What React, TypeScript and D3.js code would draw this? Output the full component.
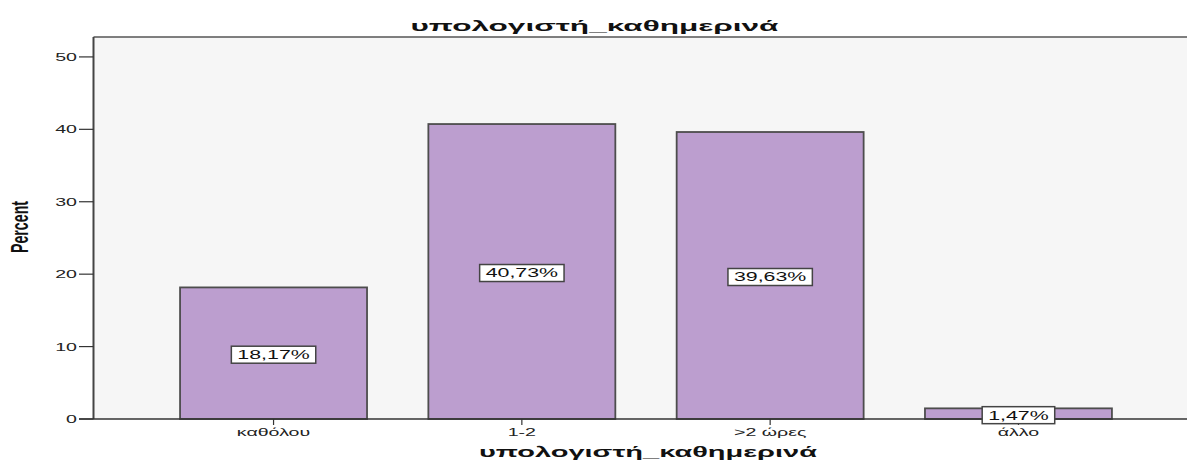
import React, { useEffect, useRef } from "react";
import * as d3 from "d3";

// Share of respondents by daily computer use
const categories = ["καθόλου", "1-2", ">2 ώρες", "άλλο"];
const percents = [18.17, 40.73, 39.63, 1.47];
const yTicks = [0, 10, 20, 30, 40, 50];
const chartTitle = "υπολογιστή_καθημερινά";
const xTitle = "υπολογιστή_καθημερινά";
const yTitle = "Percent";

const W = 1187;
const H = 461;
const SX = 1.78; // wide glyph look of the exported chart
const FONT = "'Liberation Sans', Arial, sans-serif";

const fmt = (v: number) => v.toFixed(2).replace(".", ",") + "%";

export default function App() {
  const ref = useRef<SVGSVGElement>(null);

  useEffect(() => {
    const svg = d3.select(ref.current);
    svg.selectAll("*").remove();

    const left = 93.5;
    const top = 37;
    const bottom = 419;

    const y = d3.scaleLinear().domain([0, 52.75]).range([bottom, top]);
    const x = d3
      .scaleBand<string>()
      .domain(categories)
      .range([149.4, 1142.6])
      .paddingInner(0.247)
      .paddingOuter(0.1235);

    const data = categories.map((c, i) => ({ c, v: percents[i] }));

    // plot background
    svg
      .append("rect")
      .attr("x", left)
      .attr("y", top)
      .attr("width", W - left)
      .attr("height", bottom - top)
      .attr("fill", "#f6f6f6");

    // top frame line
    svg
      .append("line")
      .attr("x1", left)
      .attr("x2", W)
      .attr("y1", top)
      .attr("y2", top)
      .attr("stroke", "#555")
      .attr("stroke-width", 1.6);

    // bars
    svg
      .append("g")
      .selectAll("rect")
      .data(data)
      .join("rect")
      .attr("x", (d) => x(d.c)!)
      .attr("y", (d) => y(d.v))
      .attr("width", x.bandwidth())
      .attr("height", (d) => y(0) - y(d.v))
      .attr("fill", "#bc9ecf")
      .attr("stroke", "#4d4d4d")
      .attr("stroke-width", 1.8);

    // y axis line + ticks
    svg
      .append("line")
      .attr("x1", left)
      .attr("x2", left)
      .attr("y1", top)
      .attr("y2", bottom)
      .attr("stroke", "#444")
      .attr("stroke-width", 2);

    const yt = svg.append("g");
    yt.selectAll("line")
      .data(yTicks)
      .join("line")
      .attr("x1", 79)
      .attr("x2", left)
      .attr("y1", (d) => y(d))
      .attr("y2", (d) => y(d))
      .attr("stroke", "#333")
      .attr("stroke-width", 1.2);
    yt.selectAll("text")
      .data(yTicks)
      .join("text")
      .attr("transform", (d) => `translate(77,${y(d)}) scale(${SX},1)`)
      .attr("text-anchor", "end")
      .attr("dy", "0.36em")
      .attr("font-family", FONT)
      .attr("font-size", 11)
      .attr("fill", "#222")
      .text((d) => String(d));

    // x axis baseline
    svg
      .append("line")
      .attr("x1", 79)
      .attr("x2", W)
      .attr("y1", bottom)
      .attr("y2", bottom)
      .attr("stroke", "#333")
      .attr("stroke-width", 1.3);

    const xt = svg.append("g");
    xt.selectAll("line")
      .data(categories)
      .join("line")
      .attr("x1", (d) => x(d)! + x.bandwidth() / 2)
      .attr("x2", (d) => x(d)! + x.bandwidth() / 2)
      .attr("y1", bottom)
      .attr("y2", bottom + 6)
      .attr("stroke", "#333")
      .attr("stroke-width", 1.2);
    xt.selectAll("text")
      .data(categories)
      .join("text")
      .attr(
        "transform",
        (d) => `translate(${x(d)! + x.bandwidth() / 2},436) scale(${SX},1)`
      )
      .attr("text-anchor", "middle")
      .attr("font-family", FONT)
      .attr("font-size", 11)
      .attr("fill", "#222")
      .text((d) => d);

    // value labels in boxes
    const lab = svg
      .append("g")
      .selectAll("g")
      .data(data)
      .join("g")
      .attr(
        "transform",
        (d) => `translate(${x(d.c)! + x.bandwidth() / 2},${y(d.v / 2) + 1.5})`
      );
    lab.each(function (d) {
      const g = d3.select(this);
      const rect = g.append("rect");
      const t = g
        .append("text")
        .attr("transform", `scale(${SX},1)`)
        .attr("text-anchor", "middle")
        .attr("dy", "0.36em")
        .attr("font-family", FONT)
        .attr("font-size", 12)
        .attr("fill", "#111")
        .text(fmt(d.v));
      const w = (t.node() as SVGTextElement).getComputedTextLength() * SX + 12;
      rect
        .attr("x", -w / 2)
        .attr("y", -8.5)
        .attr("width", w)
        .attr("height", 17)
        .attr("fill", "#fff")
        .attr("stroke", "#444")
        .attr("stroke-width", 1.5);
    });

    // titles
    svg
      .append("text")
      .attr("x", 594.5)
      .attr("y", 31)
      .attr("text-anchor", "middle")
      .attr("font-family", FONT)
      .attr("font-weight", "bold")
      .attr("font-size", 15)
      .attr("textLength", 368)
      .attr("lengthAdjust", "spacingAndGlyphs")
      .attr("fill", "#111")
      .text(chartTitle);

    svg
      .append("text")
      .attr("x", 648)
      .attr("y", 457)
      .attr("text-anchor", "middle")
      .attr("font-family", FONT)
      .attr("font-weight", "bold")
      .attr("font-size", 14)
      .attr("textLength", 338)
      .attr("lengthAdjust", "spacingAndGlyphs")
      .attr("fill", "#111")
      .text(xTitle);

    svg
      .append("text")
      .attr("transform", `translate(28,227) scale(1.7,1) rotate(-90)`)
      .attr("text-anchor", "middle")
      .attr("font-family", FONT)
      .attr("font-weight", "bold")
      .attr("font-size", 14)
      .attr("textLength", 52)
      .attr("lengthAdjust", "spacingAndGlyphs")
      .attr("fill", "#111")
      .text(yTitle);
  }, []);

  return (
    <svg
      ref={ref}
      width={W}
      height={H}
      style={{ position: "fixed", left: 0, top: 0, background: "#fff" }}
    />
  );
}
